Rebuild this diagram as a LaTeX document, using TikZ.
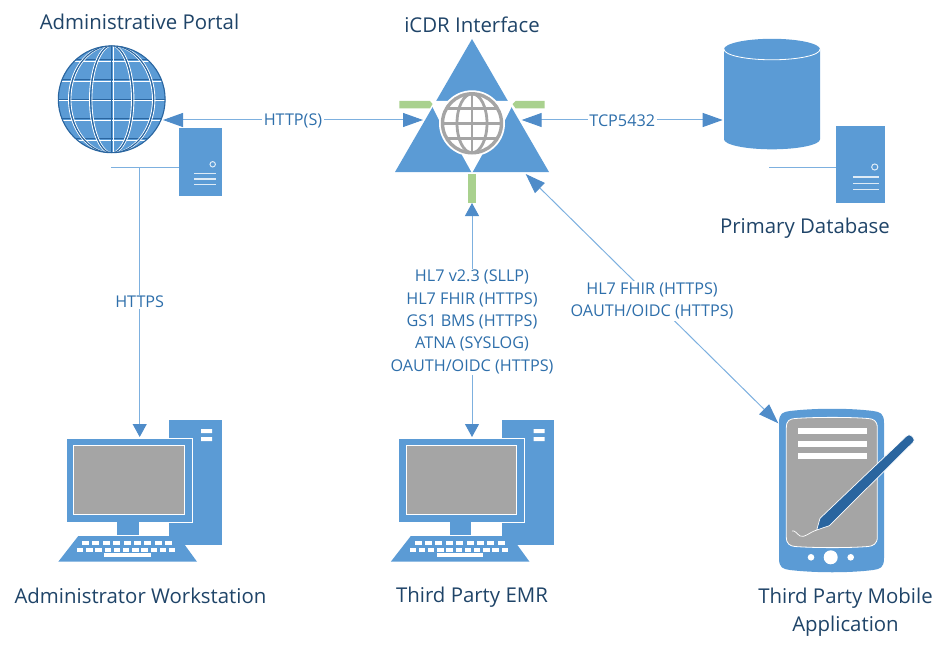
\documentclass[tikz,border=0pt]{standalone}
\usepackage{fontspec}
\setmainfont{Open Sans}
\usetikzlibrary{arrows.meta, positioning}
\definecolor{iconblue}{HTML}{5B9BD5}
\definecolor{tipblue}{HTML}{4F8CC9}
\definecolor{lineblue}{HTML}{7DB0DF}
\definecolor{darkblue}{HTML}{2A659F}
\definecolor{screengray}{HTML}{A5A5A5}
\definecolor{barpgreen}{HTML}{A9D18E}
\definecolor{labelblue}{HTML}{2E6FAB}
\definecolor{titleblue}{HTML}{1F4468}
\tikzset{
  towerbox/.pic={
    \node [rectangle, transform shape, fill=iconblue, minimum width=43pt, minimum height=68pt, inner sep=0pt] (-body) at (0,0) {};
    \draw [white, opacity=.8, line width=1pt] (12.5,2.4) circle (2.7);
    \foreach \y in {11.5,17,22.5}
      \draw [white, opacity=.8, line width=1.6pt] (-6.3,\y) -- (16,\y);
  },
  deskset/.pic={
    \fill [iconblue] (103.3,-17) rectangle (155.7,108);
    \fill [white] (135,-8) rectangle (146,-4) (135,0) rectangle (146,4);
    \node [rectangle, fill=iconblue, draw=white, line width=.6pt, minimum width=126pt, minimum height=84pt, inner sep=0pt, anchor=north west] (-monitor) at (-.5,.5) {};
    \node [rectangle, fill=screengray, draw=white, line width=.8pt, minimum width=110.5pt, minimum height=69pt, inner sep=0pt, anchor=north west] (-screen) at (7,8) {};
    \fill [iconblue] (51.3,84.5) rectangle (72.7,98);
    \fill [iconblue] (12.3,99) -- (112.3,99) -- (131,124.7) -- (-7.7,124.7) -- cycle;
    \foreach \k in {0,...,8}
      \fill [white] (16+\k*10.4,104) rectangle ++(7,3.6);
    \foreach \k in {0,...,10}
      \fill [white] (11+\k*9.2,111) rectangle ++(6.4,3.6);
    \fill [white] (38,116) rectangle (84.7,119.7);
  }
}
\begin{document}
\begin{tikzpicture}[x=1pt, y=-1pt]
  \tikzstyle{title}=[text=titleblue, font=\fontsize{20.4}{28}\selectfont, align=center]
  \tikzstyle{proto}=[text=labelblue, font=\fontsize{16.2}{22.4}\selectfont, fill=white, inner sep=1.5pt, align=center]
  \tikzstyle{link}=[draw=lineblue, line width=1pt]
  \tikzstyle{wide tip}=[{Triangle[length=20pt, width=14pt, color=tipblue]}-{Triangle[length=20pt, width=14pt, color=tipblue]}]
  \tikzstyle{short tip}=[{Triangle[length=13pt, width=14pt, color=tipblue]}-{Triangle[length=13pt, width=14pt, color=tipblue]}]
  \useasboundingbox (0,0) rectangle (947,650);

  \node [title] (portaltitle) at (139.5,22) {Administrative Portal};
  \node [title] (ifacetitle) at (472,25) {iCDR Interface};
  \node [title] (dbtitle) at (805,228) {Primary Database};
  \node [title] (worktitle) at (140.5,596) {Administrator Workstation};
  \node [title] (emrtitle) at (472,597) {Third Party EMR};
  \node [title] (mobiletitle) at (845.5,612) {Third Party Mobile\\Application};

  % portal globe
  \node [circle, fill=iconblue, minimum size=107pt, inner sep=0pt] (portalglobe) at (111.7,99.3) {};
  \begin{scope}
    \clip (111.7,99.3) circle (53.7);
    \foreach \dy in {-39.5,-19.5,0,19.5,39.5} {
      \draw [white, line width=.9pt] (50,99.3+\dy+1.3) -- (170,99.3+\dy+1.3);
      \draw [darkblue, line width=1.1pt] (50,99.3+\dy) -- (170,99.3+\dy);
    }
    \foreach \rx in {21,42} {
      \draw [white, line width=.9pt] (112.9,99.3) ellipse ({\rx} and 53.7);
      \draw [white, line width=.9pt] (110.5,99.3) ellipse ({\rx} and 53.7);
      \draw [darkblue, line width=1.1pt] (111.7,99.3) ellipse ({\rx} and 53.7);
    }
    \draw [white, line width=.9pt] (113,45) -- (113,153);
    \draw [darkblue, line width=1.1pt] (111.7,45) -- (111.7,153);
  \end{scope}
  \draw [darkblue, line width=1.1pt] (111.7,99.3) circle (53.4);

  % interface triangle
  \fill [iconblue] (472,39) -- (549,172) -- (395,172) -- cycle;
  \fill [white] (434,101) -- (510,101) -- (512,106) -- (505,120) -- (439,120) -- (432,106) -- cycle;
  \fill [white] (462,155) -- (472,173) -- (482,155) -- cycle;
  \node [circle, fill=white, minimum size=66pt, inner sep=0pt] (ifacecore) at (472,123.3) {};
  \draw [screengray, line width=3.4pt] (472,123.3) circle (29.5);
  \begin{scope}
    \clip (472,123.3) circle (29.5);
    \draw [screengray, line width=2.8pt] (472,123.3) ellipse (15 and 29.5);
    \draw [screengray, line width=2.8pt] (472,90) -- (472,156);
    \foreach \dy in {-15,0,15}
      \draw [screengray, line width=2.8pt] (440,123.3+\dy) -- (504,123.3+\dy);
  \end{scope}
  \fill [barpgreen] (399.3,101) -- (430,101) -- (432.5,104) -- (430,108.3) -- (399.3,108.3) -- cycle;
  \fill [barpgreen] (544.7,101) -- (515.5,101) -- (512.5,104) -- (515.5,108.3) -- (544.7,108.3) -- cycle;
  \fill [barpgreen] (468.3,174) rectangle (476,202.7);

  % database
  \fill [iconblue] (724,49.3) -- (724,139.3) arc [start angle=180, end angle=0, x radius=48, y radius=10] -- (820,49.3) arc [start angle=0, end angle=-180, x radius=48, y radius=10.5];
  \draw [white, line width=.8pt] (724,49.3) arc [start angle=180, end angle=0, x radius=48, y radius=10.5];
  \node [rectangle, minimum width=96pt, minimum height=110pt, inner sep=0pt] (dbbody) at (772,94.5) {};

  \pic (portalsrv) at (200.2,161.9) {towerbox};
  \pic (dbsrv) [xscale=1.14, yscale=1.128] at (860.5,164.3) {towerbox};
  \pic (workpc) at (66,437) {deskset};
  \pic (emrpc) at (398.5,437) {deskset};

  % tablet and pen
  \fill [iconblue] (779,423) .. controls (779,413) and (783,412) .. (790,411) .. controls (815,408) and (850,408) .. (873,411) .. controls (880,412) and (884,413) .. (884,423) -- (884,558) .. controls (884,568) and (880,569) .. (873,570) .. controls (850,573) and (815,573) .. (790,570) .. controls (783,569) and (779,568) .. (779,558) -- cycle;
  \draw [white, fill=screengray, line width=.8pt] (786.3,428) .. controls (786.3,420) and (790,419) .. (795,418.5) .. controls (815,417) and (850,417) .. (868,418.5) .. controls (873,419) and (877.3,420) .. (877.3,428) -- (877.3,537) .. controls (877.3,544) and (873,546) .. (868,546.5) .. controls (850,548) and (815,548) .. (795,546.5) .. controls (790,546) and (786.3,544) .. (786.3,537) -- cycle;
  \node [rectangle, minimum width=105pt, minimum height=163pt, inner sep=0pt] (tablet) at (831.5,490.6) {};
  \foreach \y in {428.3,440.8,453}
    \fill [white] (798,\y) rectangle (867,\y+5.7);
  \fill [white] (830.7,557.3) circle (7);
  \fill [white] (811,557.3) circle (3.3);
  \fill [white] (850.7,557.3) circle (3.3);
  \draw [white, line width=.7pt] (816.7,530) .. controls (808,533) and (805,538) .. (800,536) .. controls (797,534) and (795,530) .. (792,531);
  \draw [white, fill=darkblue, line width=.7pt, line join=round] (816.7,530) -- (820,518.3) -- (906.5,436) .. controls (908,434.5) and (910,434.5) .. (911,435.5) -- (913.5,438) .. controls (914.5,439.5) and (914.5,441) .. (913,442.5) -- (829.3,525.7) -- cycle;

  % connectors
  \coordinate (ifaceleft) at (423,120);
  \coordinate (iceright) at (521.7,120);
  \coordinate (dbleft) at (722.7,120);
  \coordinate (icebottom) at (472,203);
  \coordinate (icecorner) at (525.7,174);
  \coordinate (tabletcorner) at (778.3,423.3);
  \coordinate (portalbranch) at (139.7,167);
  \coordinate (portalstub) at (111,167);
  \coordinate (dbstub) at (769.3,167);
  \coordinate (worktop) at (139.7,437);
  \coordinate (emrtop) at (472,437);
  \coordinate (globeport) at (163,120);

  \draw [link, wide tip] (globeport) -- node [proto, yshift=-1pt] (httpslabel) {HTTP(S)} (ifaceleft);
  \draw [link, wide tip] (iceright) -- node [proto, yshift=-1pt] (tcplabel) {TCP5432} (dbleft);
  \draw [link] (portalstub) -- (portalsrv-body.west |- portalstub);
  \draw [link] (dbstub) -- (dbsrv-body.west |- dbstub);
  \draw [link, -{Triangle[length=13pt, width=14pt, color=tipblue]}] (portalbranch) -- node [proto, pos=.5] (webslabel) {HTTPS} (worktop);
  \draw [link, short tip] (icebottom) -- node [proto, pos=.5, yshift=-2pt] (emrlabel) {HL7 v2.3 (SLLP)\\HL7 FHIR (HTTPS)\\GS1 BMS (HTTPS)\\ATNA (SYSLOG)\\OAUTH/OIDC (HTTPS)} (emrtop);
  \draw [link, wide tip] (icecorner) -- node [proto, pos=.51, xshift=-2.5pt] (mobilelabel) {HL7 FHIR (HTTPS)\\OAUTH/OIDC (HTTPS)} (tabletcorner);
\end{tikzpicture}
\end{document}
